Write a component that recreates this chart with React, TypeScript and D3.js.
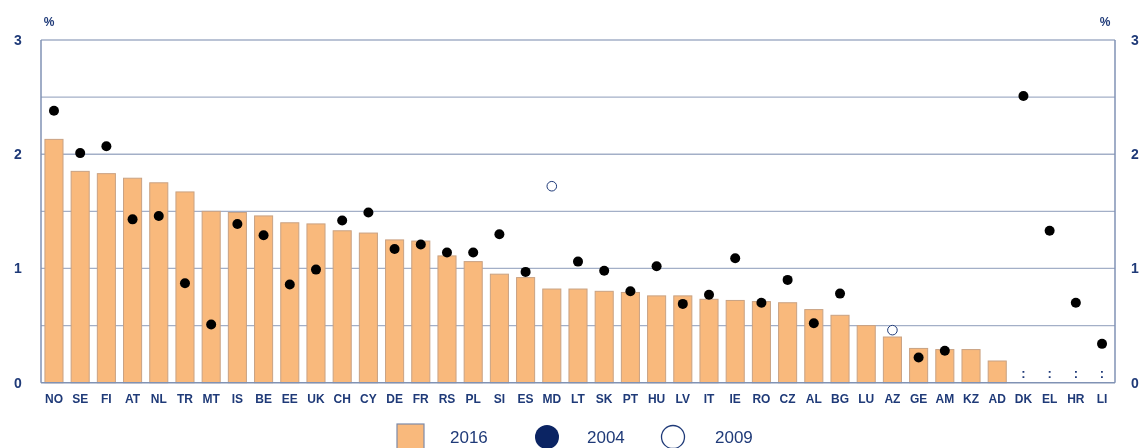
import React, { useEffect, useRef } from "react";
import * as d3 from "d3";

// country codes along the x axis
const countries = ["NO", "SE", "FI", "AT", "NL", "TR", "MT", "IS", "BE", "EE", "UK", "CH", "CY", "DE", "FR", "RS", "PL", "SI", "ES", "MD", "LT", "SK", "PT", "HU", "LV", "IT", "IE", "RO", "CZ", "AL", "BG", "LU", "AZ", "GE", "AM", "KZ", "AD", "DK", "EL", "HR", "LI"];

// 2016 bars (null = not available)
const values2016 = [2.13, 1.85, 1.83, 1.79, 1.75, 1.67, 1.50, 1.49, 1.46, 1.40, 1.39, 1.33, 1.31, 1.25, 1.24, 1.11, 1.06, 0.95, 0.92, 0.82, 0.82, 0.80, 0.79, 0.76, 0.76, 0.73, 0.72, 0.71, 0.70, 0.64, 0.59, 0.50, 0.40, 0.30, 0.29, 0.29, 0.19, null, null, null, null];

// 2004 dots
const values2004 = [2.38, 2.01, 2.07, 1.43, 1.46, 0.87, 0.51, 1.39, 1.29, 0.86, 0.99, 1.42, 1.49, 1.17, 1.21, 1.14, 1.14, 1.30, 0.97, null, 1.06, 0.98, 0.80, 1.02, 0.69, 0.77, 1.09, 0.70, 0.90, 0.52, 0.78, null, null, 0.22, 0.28, null, null, 2.51, 1.33, 0.70, 0.34];

// 2009 hollow dots
const values2009 = [null, null, null, null, null, null, null, null, null, null, null, null, null, null, null, null, null, null, null, 1.72, null, null, null, null, null, null, null, null, null, null, null, null, 0.46, null, null, null, null, null, null, null, null];

const yTicks = [0, 1, 2, 3];
const yGrid = [0.5, 1, 1.5, 2, 2.5, 3];

const NAVY = "#1f3a78";
const GRID = "#a3afc7";
const BAR = "#f9b97c";
const BAR_STROKE = "#c9a283";

const App = () => {
    const container = useRef<HTMLDivElement>(null);

    useEffect(() => {
        const el = container.current;
        if (!el) return;
        el.innerHTML = "";

        const W = 1146, H = 448;
        const left = 41, right = 1115, top = 40, bottom = 382.7;

        const svg = d3.select(el)
            .append("svg")
            .attr("width", W)
            .attr("height", H)
            .style("display", "block")
            .style("font-family", "'Liberation Sans', Arial, sans-serif");

        const x = d3.scaleBand()
            .domain(countries)
            .range([left, right])
            .paddingInner(0.31)
            .paddingOuter(0.15);

        const y = d3.scaleLinear()
            .domain([0, 3])
            .range([bottom, top]);

        // gridlines
        svg.append("g")
            .selectAll("line")
            .data(yGrid)
            .enter()
            .append("line")
            .attr("x1", left)
            .attr("x2", right)
            .attr("y1", (d) => y(d))
            .attr("y2", (d) => y(d))
            .attr("stroke", GRID)
            .attr("stroke-width", 1.3);

        // bars
        svg.append("g")
            .selectAll("rect")
            .data(countries.map((c, i) => ({ c, v: values2016[i] })).filter((d) => d.v != null))
            .enter()
            .append("rect")
            .attr("x", (d) => x(d.c)!)
            .attr("y", (d) => y(d.v as number))
            .attr("width", x.bandwidth())
            .attr("height", (d) => bottom - y(d.v as number))
            .attr("fill", BAR)
            .attr("stroke", BAR_STROKE)
            .attr("stroke-width", 1);

        // frame
        svg.append("line").attr("x1", left).attr("x2", left).attr("y1", top).attr("y2", bottom)
            .attr("stroke", "#8092b4").attr("stroke-width", 1.5);
        svg.append("line").attr("x1", right).attr("x2", right).attr("y1", top).attr("y2", bottom)
            .attr("stroke", "#8092b4").attr("stroke-width", 1.5);
        svg.append("line").attr("x1", left).attr("x2", right).attr("y1", bottom).attr("y2", bottom)
            .attr("stroke", "#8092b4").attr("stroke-width", 1.5);

        // 2004 dots
        svg.append("g")
            .selectAll("circle")
            .data(countries.map((c, i) => ({ c, v: values2004[i] })).filter((d) => d.v != null))
            .enter()
            .append("circle")
            .attr("cx", (d) => x(d.c)! + x.bandwidth() / 2)
            .attr("cy", (d) => y(d.v as number))
            .attr("r", 5)
            .attr("fill", "#000");

        // 2009 hollow dots
        svg.append("g")
            .selectAll("circle")
            .data(countries.map((c, i) => ({ c, v: values2009[i] })).filter((d) => d.v != null))
            .enter()
            .append("circle")
            .attr("cx", (d) => x(d.c)! + x.bandwidth() / 2)
            .attr("cy", (d) => y(d.v as number))
            .attr("r", 4.8)
            .attr("fill", "#fff")
            .attr("stroke", NAVY)
            .attr("stroke-width", 1);

        // ":" for not available
        svg.append("g")
            .selectAll("text")
            .data(countries.filter((c, i) => values2016[i] == null))
            .enter()
            .append("text")
            .attr("x", (d) => x(d)! + x.bandwidth() / 2)
            .attr("y", bottom - 5)
            .attr("text-anchor", "middle")
            .attr("fill", NAVY)
            .attr("font-size", 13)
            .attr("font-weight", "bold")
            .text(":");

        // category labels
        svg.append("g")
            .selectAll("text")
            .data(countries)
            .enter()
            .append("text")
            .attr("x", (d) => x(d)! + x.bandwidth() / 2)
            .attr("y", bottom + 20)
            .attr("text-anchor", "middle")
            .attr("fill", NAVY)
            .attr("font-size", 12)
            .attr("font-weight", "bold")
            .text((d) => d);

        // y tick labels, both sides
        [{ xPos: 18 }, { xPos: 1135 }].forEach((side) => {
            svg.append("g")
                .selectAll("text")
                .data(yTicks)
                .enter()
                .append("text")
                .attr("x", side.xPos)
                .attr("y", (d) => y(d) + 5)
                .attr("text-anchor", "middle")
                .attr("fill", NAVY)
                .attr("font-size", 14)
                .attr("font-weight", "bold")
                .text((d) => d);
        });

        svg.append("text").attr("x", 49).attr("y", 26).attr("text-anchor", "middle")
            .attr("fill", NAVY).attr("font-size", 12).attr("font-weight", "bold").text("%");
        svg.append("text").attr("x", 1105).attr("y", 26).attr("text-anchor", "middle")
            .attr("fill", NAVY).attr("font-size", 12).attr("font-weight", "bold").text("%");

        // legend
        const lg = svg.append("g");
        lg.append("rect").attr("x", 397).attr("y", 424).attr("width", 27).attr("height", 26)
            .attr("fill", BAR).attr("stroke", "#7d8aa8").attr("stroke-width", 1.2);
        lg.append("text").attr("x", 450).attr("y", 443).attr("fill", NAVY).attr("font-size", 17).text("2016");
        lg.append("circle").attr("cx", 547).attr("cy", 437).attr("r", 12).attr("fill", "#0b2463");
        lg.append("text").attr("x", 587).attr("y", 443).attr("fill", NAVY).attr("font-size", 17).text("2004");
        lg.append("circle").attr("cx", 673).attr("cy", 437).attr("r", 11.5).attr("fill", "#fff")
            .attr("stroke", NAVY).attr("stroke-width", 1.3);
        lg.append("text").attr("x", 715).attr("y", 443).attr("fill", NAVY).attr("font-size", 17).text("2009");
    }, []);

    return <div ref={container} style={{ position: "fixed", left: 0, top: 0 }}></div>;
};

export default App;
